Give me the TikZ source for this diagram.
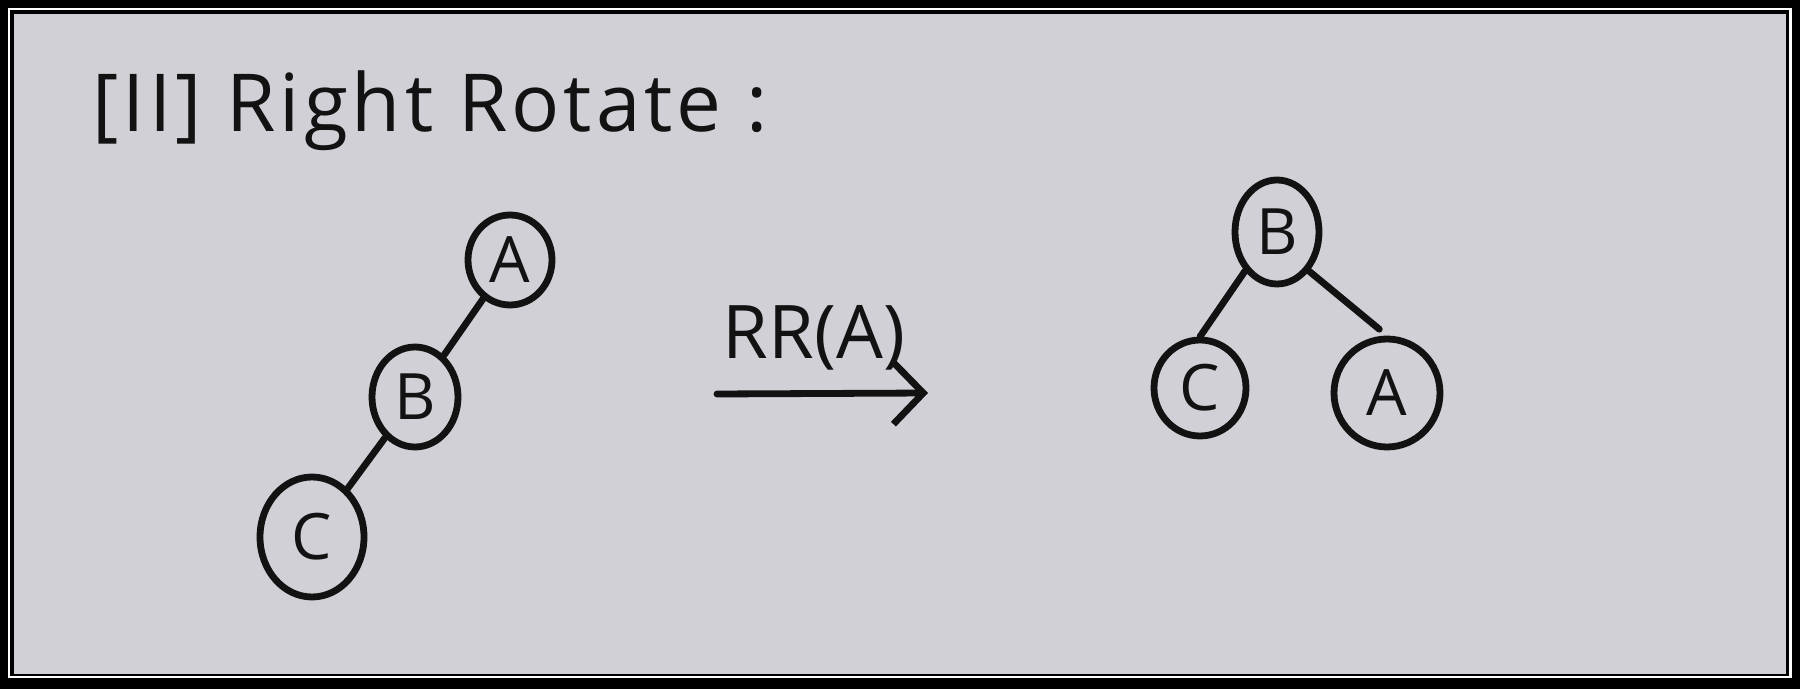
\documentclass[tikz,border=0pt]{standalone}
\usepackage{fontspec}
\setmainfont{Open Sans}
\usetikzlibrary{shapes.geometric,arrows.meta}
\definecolor{paper}{RGB}{208,208,214}
\definecolor{ink}{RGB}{18,18,18}
\begin{document}
\begin{tikzpicture}[x=0.5pt,y=-0.5pt,
  treenode/.style={ellipse,draw=ink,line width=3.4pt,inner sep=0pt,text=ink,font=\fontsize{32}{32}\selectfont},
  edge/.style={draw=ink,line width=3.4pt,line cap=round},
  label/.style={text=ink,inner sep=0pt}]
\fill[black] (0,0) rectangle (1800,689);
\draw[white,line width=1.25pt] (9,9) rectangle (1790.5,677);
\fill[paper] (14,14) rectangle (1786,674);
\useasboundingbox (0,0) rectangle (1800,689);

% title
\node[label,anchor=base west,font=\fontsize{40}{40}\selectfont\addfontfeature{LetterSpace=5}] (title) at (92,132) {[II] Right Rotate :};

% left tree
\node[treenode,minimum width=42pt,minimum height=45pt] (lA) at (510,260) {A};
\node[treenode,minimum width=43pt,minimum height=50pt] (lB) at (415,397) {B};
\node[treenode,minimum width=52pt,minimum height=60pt] (lC) at (312,537) {C};
\draw[edge] (lA) -- (lB);
\draw[edge] (lB) -- (lC);

% arrow
\coordinate (as) at (717,394);
\coordinate (ae) at (928,393);
\draw[edge,-{Straight Barb[length=15pt,width=31pt]}] (as) -- (ae);
\node[label,font=\fontsize{37}{37}\selectfont] (rr) at (814,338) {RR(A)};

% right tree
\node[treenode,minimum width=42pt,minimum height=52pt] (rB) at (1277,232) {B};
\node[treenode,minimum width=46pt,minimum height=48pt] (rC) at (1200,388) {C};
\node[treenode,minimum width=53pt,minimum height=54pt] (rA) at (1387,393) {A};
\draw[edge] (rB.south west) -- (rC.north);
\draw[edge,shorten >=5pt] (rB.south east) -- (rA.north);
\end{tikzpicture}
\end{document}
